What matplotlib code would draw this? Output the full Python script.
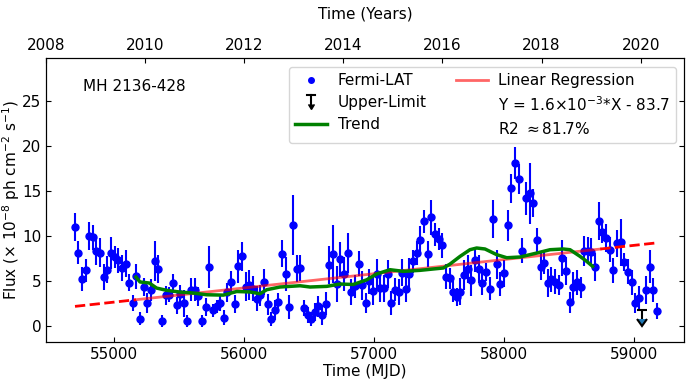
import numpy as np
import matplotlib
matplotlib.use("Agg")
import matplotlib.pyplot as plt
from matplotlib.lines import Line2D
from matplotlib.legend_handler import HandlerBase
import matplotlib.lines as mlines

# ---- data ----
mjd = [54697, 54725, 54753, 54781, 54809, 54837, 54865, 54893, 54921, 54949,
       54977, 55005, 55033, 55061, 55089, 55117, 55145, 55173, 55201, 55229,
       55257, 55285, 55313, 55341, 55369, 55397, 55425, 55453, 55481, 55509,
       55537, 55565, 55593, 55621, 55649, 55677, 55705, 55733, 55761, 55789,
       55817, 55845, 55873, 55901, 55929, 55957, 55985, 56013, 56041, 56069,
       56097, 56125, 56153, 56181, 56209, 56237, 56265, 56293, 56321, 56349,
       56377, 56405, 56433, 56461, 56489, 56517, 56545, 56573, 56601, 56629,
       56657, 56685, 56713, 56741, 56769, 56797, 56825, 56853, 56881, 56909,
       56937, 56965, 56993, 57021, 57049, 57077, 57105, 57133, 57161, 57189,
       57217, 57245, 57273, 57301, 57329, 57357, 57385, 57413, 57441, 57469,
       57497, 57525, 57553, 57581, 57609, 57637, 57665, 57693, 57721, 57749,
       57777, 57805, 57833, 57861, 57889, 57917, 57945, 57973, 58001, 58029,
       58057, 58085, 58113, 58141, 58169, 58197, 58225, 58253, 58281, 58309,
       58337, 58365, 58393, 58421, 58449, 58477, 58505, 58533, 58561, 58589,
       58617, 58645, 58673, 58701, 58729, 58757, 58785, 58813, 58841, 58869,
       58897, 58925, 58953, 58981, 59009, 59037, 59093, 59121, 59149, 59177]

flux = [11.0, 8.1, 5.2, 6.15, 10.0, 9.8, 8.3, 8.1, 5.4, 6.2,
        8.1, 7.6, 7.25, 6.4, 6.9, 4.8, 2.55, 5.5, 0.8, 4.3,
        2.5, 4.0, 7.2, 6.3, 0.5, 3.4, 3.45, 4.7, 2.25, 3.55,
        2.5, 0.55, 4.0, 4.0, 3.25, 0.55, 2.1, 6.5, 1.7, 2.15,
        2.5, 0.9, 3.7, 4.85, 2.4, 6.6, 7.7, 4.35, 4.55, 4.1,
        3.0, 3.37, 4.85, 2.37, 0.74, 1.74, 2.67, 8.0, 5.74, 2.1,
        11.19, 6.33, 6.4, 1.93, 1.19, 0.74, 1.48, 2.15, 1.19, 2.44,
        6.7, 7.93, 4.67, 7.4, 5.74, 8.1, 3.75, 4.37, 6.89, 4.48,
        2.52, 4.93, 3.85, 5.78, 4.18, 4.18, 5.74, 2.52, 4.0, 3.74,
        5.89, 4.07, 5.74, 7.15, 8.07, 9.48, 11.59, 7.96, 12.04, 10.15,
        9.63, 8.93, 5.45, 5.26, 3.78, 3.22, 3.78, 5.67, 6.3, 5.04,
        7.33, 6.3, 4.74, 6.0, 4.11, 11.85, 6.8, 4.65, 5.85, 11.15,
        15.26, 18.04, 16.3, 8.33, 14.15, 14.7, 13.63, 9.48, 6.56, 6.96,
        4.7, 5.15, 4.89, 4.52, 7.48, 6.11, 2.6, 4.33, 4.81, 4.26,
        8.26, 8.3, 8.22, 6.52, 11.65, 10.37, 9.74, 8.44, 6.15, 9.18,
        9.26, 7.07, 6.0, 4.81, 2.56, 3.11, 3.96, 6.56, 3.96, 1.67]

flux_err = [1.57, 1.3, 1.35, 1.3, 1.57, 1.4, 1.57, 1.6, 1.45, 1.5,
            1.75, 1.2, 1.4, 1.4, 1.5, 0.9, 0.9, 1.4, 0.75, 1.0,
            1.1, 1.2, 2.2, 1.5, 0.65, 1.05, 0.85, 1.05, 0.9, 1.0,
            1.5, 0.65, 1.3, 1.3, 1.1, 0.65, 1.0, 2.3, 0.75, 0.75,
            0.9, 0.8, 1.1, 1.2, 1.0, 1.85, 1.65, 1.65, 1.65, 1.4,
            1.4, 1.2, 1.4, 1.2, 0.75, 1.1, 1.0, 1.5, 1.85, 1.3,
            3.3, 1.5, 1.4, 0.9, 0.85, 0.75, 1.0, 1.2, 1.1, 1.3,
            2.1, 3.2, 2.0, 1.95, 1.9, 2.2, 1.4, 1.3, 1.4, 1.65,
            1.1, 1.4, 1.55, 1.65, 1.5, 1.5, 1.6, 1.3, 1.3, 1.4,
            1.5, 1.4, 1.75, 1.3, 1.3, 1.6, 1.3, 1.4, 1.95, 1.3,
            1.2, 1.4, 1.4, 1.2, 1.2, 1.0, 1.5, 1.65, 1.5, 1.75,
            1.4, 1.5, 1.3, 1.0, 1.3, 2.1, 1.6, 1.3, 1.5, 1.75,
            1.6, 1.8, 1.65, 1.4, 1.85, 3.4, 1.6, 1.4, 1.5, 1.2,
            1.55, 1.4, 1.4, 1.1, 2.0, 1.55, 1.2, 1.65, 1.4, 1.2,
            1.65, 1.5, 1.5, 1.5, 2.1, 1.2, 1.5, 1.4, 1.4, 1.5,
            2.6, 1.0, 1.4, 1.4, 1.1, 1.3, 1.6, 1.85, 1.3, 0.9]

ul_mjd = [59065]
ul_flux = [1.7]
ul_len = [1.0]

trend_mjd = [55169, 55200, 55272, 55328, 55405, 55508, 55610, 55713, 55841, 55944,
             56046, 56123, 56175, 56277, 56431, 56508, 56636, 56738, 56841, 56944,
             57021, 57123, 57225, 57354, 57456, 57533, 57585, 57662, 57738, 57790,
             57854, 57944, 58021, 58123, 58252, 58354, 58456, 58508, 58585, 58636,
             58682]
trend_flux = [5.41, 4.86, 4.74, 4.18, 3.93, 3.74, 3.63, 3.44, 3.4, 3.8,
              3.75, 3.55, 4.0, 4.3, 4.44, 4.3, 4.37, 4.63, 4.58, 5.1,
              5.75, 6.22, 6.04, 6.15, 6.3, 6.41, 6.85, 7.7, 8.44, 8.63,
              8.52, 7.89, 7.55, 7.63, 8.07, 8.44, 8.52, 8.44, 7.7, 7.15,
              6.59]

# regression line as drawn (endpoints)
reg_mjd_ends = [54700, 59175]
reg_flux_ends = [2.15, 9.2]
reg_fit_range = [55169, 58740]

year_ticks = [2008, 2010, 2012, 2014, 2016, 2018, 2020]

source_name = "MH 2136-428"
eq_text = r"Y = 1.6$\times$10$^{-3}$*X - 83.7"
r2_text = r"R2 $\approx$81.7%"


class UpperLimitHandler(HandlerBase):
    """Legend symbol: bar on top, stem, arrow head pointing down."""
    def create_artists(self, legend, orig_handle, xdescent, ydescent,
                       width, height, fontsize, trans):
        cx = 0.5 * width - xdescent
        top = height - ydescent + 0.1 * height
        bot = -ydescent + 0.05 * height
        stem = Line2D([cx, cx], [bot + 2, top], color='black', lw=1.5, transform=trans)
        cap = Line2D([cx - 3, cx + 3], [top, top], color='black', lw=1.5, transform=trans)
        head = Line2D([cx], [bot + 1.5], marker=mlines.CARETDOWNBASE, color='black',
                      markersize=5, ls='none', transform=trans)
        return [stem, cap, head]


# ---- plot ----
plt.rcParams['font.family'] = ['DejaVu Sans']
fs = 11
fig = plt.figure(figsize=(6.91, 3.83), dpi=100)
ax = fig.add_axes([0.0666, 0.106, 0.9237, 0.742])

slope = (reg_flux_ends[1] - reg_flux_ends[0]) / (reg_mjd_ends[1] - reg_mjd_ends[0])
def reg(x):
    return reg_flux_ends[0] + slope * (np.asarray(x) - reg_mjd_ends[0])

ax.errorbar(mjd, flux, yerr=flux_err, fmt='none', ecolor='blue', elinewidth=1.5, capsize=0, zorder=2)
ax.plot(mjd, flux, 'o', color='blue', markersize=5, zorder=3)
ax.errorbar(ul_mjd, ul_flux, yerr=ul_len, uplims=True, fmt='none', ecolor='black',
            elinewidth=1.5, capsize=3.5, capthick=1.5, zorder=3)

trend, = ax.plot(trend_mjd, trend_flux, color='green', lw=2.5, zorder=4)

xl = np.array([reg_mjd_ends[0], reg_fit_range[0]])
xr = np.array([reg_fit_range[1], reg_mjd_ends[1]])
xm = np.array(reg_fit_range)
ax.plot(xm, reg(xm), color='red', alpha=0.6, lw=2, zorder=3)
ax.plot(xl, reg(xl), color='red', ls='--', lw=2, zorder=3)
ax.plot(xr, reg(xr), color='red', ls='--', lw=2, zorder=3)

ax.set_xlim(54477, 59387)
ax.set_ylim(-1.85, 29.7)
ax.set_yticks([0, 5, 10, 15, 20, 25])
ax.set_xticks([55000, 56000, 57000, 58000, 59000])
ax.tick_params(axis='both', direction='in', labelsize=fs, right=True, top=False)
ax.set_xlabel('Time (MJD)', fontsize=fs, labelpad=1)
ax.set_ylabel(r'Flux ($\times$ 10$^{-8}$ ph cm$^{-2}$ s$^{-1}$)', fontsize=fs)
ax.yaxis.set_label_coords(-0.038, 0.5)

ax.text(0.058, 0.9, source_name, transform=ax.transAxes, fontsize=fs, ha='left', va='center')

ul_proxy = Line2D([], [], color='black')
blank = Line2D([], [], color='none')
handles = [Line2D([], [], marker='o', color='blue', ls='none', markersize=4),
           ul_proxy, trend, Line2D([], [], color='red', alpha=0.6, lw=2), blank, blank]
labels = ['Fermi-LAT', 'Upper-Limit', 'Trend', 'Linear Regression', eq_text, r2_text]
ax.legend(handles, labels, loc='upper right', ncol=2, fontsize=fs,
          bbox_to_anchor=(0.987, 0.969), borderaxespad=0, handlelength=2.1,
          handletextpad=0.7, columnspacing=1.9, labelspacing=0.45, borderpad=0.4,
          handler_map={ul_proxy: UpperLimitHandler()})

ax2 = ax.twiny()
ax2.set_xlim(2008, 2020.88)
ax2.set_xticks(year_ticks)
ax2.tick_params(axis='x', direction='in', labelsize=fs)
ax2.set_xlabel('Time (Years)', fontsize=fs, labelpad=14)

fig.savefig('out.png', dpi=100)
